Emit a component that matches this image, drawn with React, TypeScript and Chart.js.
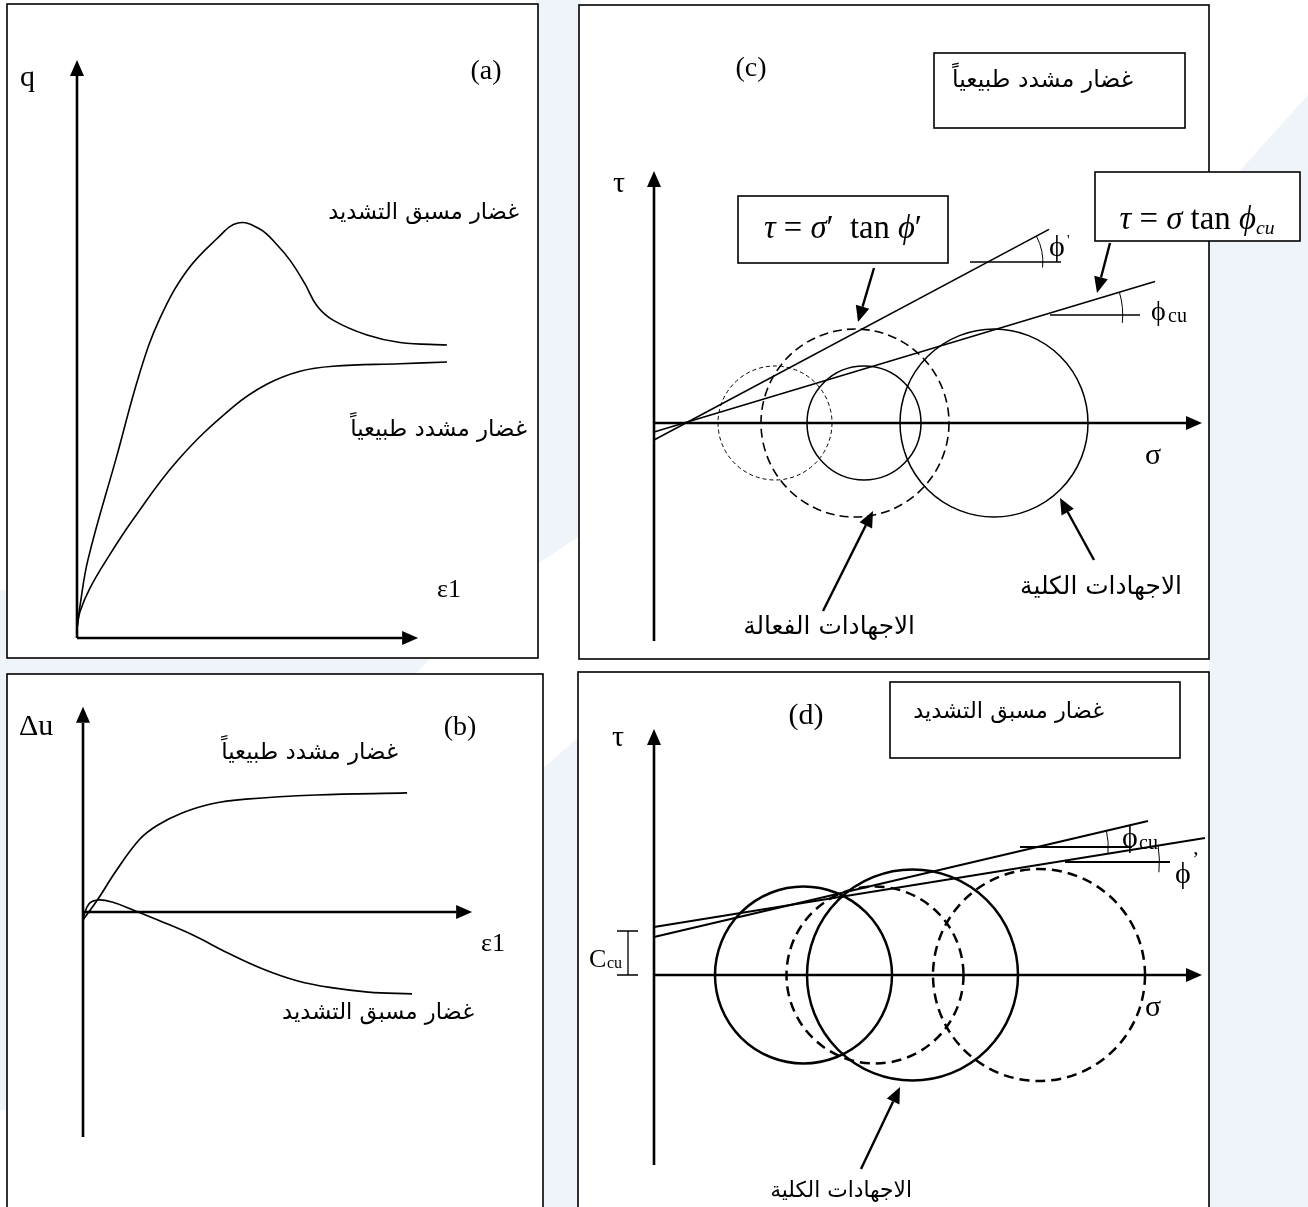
import React, { useEffect, useRef } from "react";
import { Chart, registerables } from "chart.js";

Chart.register(...registerables);

/* ---------------- (a) deviator stress q against axial strain ε1 ---------------- */
const strainOCa = [0, 0.08, 0.3, 1.08, 1.7, 2.24, 2.97, 3.78, 4.35, 4.95, 5.41, 5.76, 6.15, 6.49, 6.92, 7.84, 8.73, 10.0];
const qOCa = [0.24, 0.77, 1.9, 4.4, 6.4, 7.7, 8.85, 9.62, 10.0, 9.85, 9.47, 9.1, 8.55, 8.0, 7.66, 7.3, 7.12, 7.06];
const strainNCa = [0, 0.08, 0.35, 0.81, 1.51, 2.73, 4.22, 5.14, 6.03, 6.92, 8.73, 10.0];
const qNCa = [0.24, 0.63, 1.2, 1.9, 2.85, 4.29, 5.57, 6.12, 6.43, 6.55, 6.61, 6.65];
const axisA = { xEnd: 9.22, yEnd: 13.93 };

/* ---------------- (b) excess pore pressure Δu against ε1 ---------------- */
const strainNCb = [0, 0.46, 1.01, 1.74, 2.29, 3.03, 3.91, 4.98, 7.13, 9.91];
const duNCb = [-0.67, 1.08, 3.42, 6.08, 7.25, 8.25, 9.0, 9.4, 9.75, 9.92];
const strainOCb = [0, 0.18, 0.46, 0.89, 1.53, 2.29, 3.36, 4.43, 5.5, 6.57, 7.65, 8.72, 10.06];
const duOCb = [-0.5, 0.67, 1.0, 0.83, 0.17, -0.67, -1.92, -3.42, -4.75, -5.75, -6.33, -6.67, -6.83];
const axisB = { xEnd: 11.9, yStart: -18.75, yEnd: 17.1 };

/* ---------------- (c) normally consolidated clay, Mohr circles ---------------- */
const totalCentresC = [105, 170];
const totalRadiiC = [28.5, 47];
const effCentresC = [60.5, 100.5];
const effRadiiC = [28.5, 47];
const envEffSigmaC = [0, 197.5];
const envEffTauC = [-8.5, 96.8];
const envTotSigmaC = [0, 250.5];
const envTotTauC = [-4.5, 70.7];
const refEffSigmaC = [158, 203.5];
const refEffTauC = 80.5;
const refTotSigmaC = [198, 243];
const refTotTauC = 54;
const axisC = { xEnd: 274, yStart: -109, yEnd: 126 };
// pointer arrows: [tail σ, tail τ, tip σ, tip τ]
const arrowsC = [
  [110, 77.5, 102, 50.5],
  [228, 90, 221.5, 65],
  [84.5, -94, 109.5, -44],
  [220, -68.5, 203, -37.5],
];

/* ---------------- (d) overconsolidated clay, Mohr circles ---------------- */
const totalCentresD = [74.75, 129.25];
const totalRadiiD = [44.25, 52.75];
const effCentresD = [110.5, 192.5];
const effRadiiD = [44.25, 53];
const envTotSigmaD = [0, 247];
const envTotTauD = [19, 77];
const envEffSigmaD = [0, 275.5];
const envEffTauD = [24, 68.5];
const refTotSigmaD = [183, 239];
const refTotTauD = 64;
const refEffSigmaD = [205.5, 258];
const refEffTauD = 56.5;
const cohesionD = 22;
const axisD = { xEnd: 274, yStart: -95, yEnd: 123 };
const arrowsD = [[103.5, -97, 123, -56]];

/* ---------------- labels ---------------- */
const LBL_OC = "غضار مسبق التشديد";
const LBL_NC = "غضار مشدد طبيعياً";
const LBL_TOTAL = "الاجهادات الكلية";
const LBL_EFF = "الاجهادات الفعالة";

/* ---------------- styling ---------------- */
const INK = "#000000";
const SERIF = '"Liberation Serif", "DejaVu Serif", serif';
const ARABIC = '"DejaVu Sans", "Noto Sans", sans-serif';
const WASH = "#eef4fa";
const WASH_SHAPES: number[][][] = [
  [[1209, 205], [1308, 95], [1308, 1207], [1209, 1207]],
  [[536, 0], [581, 0], [581, 535], [536, 565]],
  [[541, 770], [581, 735], [581, 1207], [541, 1207]],
  [[0, 656], [432, 656], [414, 676], [0, 676]],
  [[0, 590], [7, 590], [7, 1110], [0, 1110]],
];

type Frame = { left: number; top: number; width: number; height: number; ox: number; oy: number; ux: number; uy: number };
type Kit = {
  ctx: CanvasRenderingContext2D;
  X: (v: number) => number;
  Y: (v: number) => number;
  R: (r: number) => number;
  P: (x: number, y: number) => [number, number];
};
type Spec = { frame: Frame; datasets: any[]; under: (k: Kit) => void; over: (k: Kit) => void };

const pts = (xs: number[], ys: number[]) => xs.map((x, i) => ({ x, y: ys[i] }));
const curve = (xs: number[], ys: number[], width = 1.6) => ({
  data: pts(xs, ys),
  borderColor: INK,
  borderWidth: width,
  pointRadius: 0,
  fill: false,
  clip: false,
  tension: 0.4,
  borderJoinStyle: "round",
});
const straight = (xs: number[], ys: number[], width = 1.6) => ({
  data: pts(xs, ys),
  borderColor: INK,
  borderWidth: width,
  pointRadius: 0,
  fill: false,
  clip: false,
  tension: 0,
});

/* ---------------- drawing helpers ---------------- */
function wash(k: Kit) {
  const { ctx } = k;
  ctx.fillStyle = WASH;
  for (const poly of WASH_SHAPES) {
    ctx.beginPath();
    poly.forEach(([x, y], i) => {
      const [px, py] = k.P(x, y);
      if (i === 0) ctx.moveTo(px, py);
      else ctx.lineTo(px, py);
    });
    ctx.closePath();
    ctx.fill();
  }
}

function box(k: Kit, x0: number, y0: number, x1: number, y1: number, lw = 1.6) {
  const { ctx } = k;
  const [a, b] = k.P(x0, y0);
  const [c, d] = k.P(x1, y1);
  ctx.fillStyle = "#ffffff";
  ctx.fillRect(a, b, c - a, d - b);
  ctx.strokeStyle = INK;
  ctx.lineWidth = lw;
  ctx.setLineDash([]);
  ctx.strokeRect(a, b, c - a, d - b);
}

function arrow(ctx: CanvasRenderingContext2D, x0: number, y0: number, x1: number, y1: number, lw: number, head: number, half: number) {
  const a = Math.atan2(y1 - y0, x1 - x0);
  const bx = x1 - head * Math.cos(a);
  const by = y1 - head * Math.sin(a);
  ctx.setLineDash([]);
  ctx.strokeStyle = INK;
  ctx.lineWidth = lw;
  ctx.beginPath();
  ctx.moveTo(x0, y0);
  ctx.lineTo(bx, by);
  ctx.stroke();
  ctx.fillStyle = INK;
  ctx.beginPath();
  ctx.moveTo(x1, y1);
  ctx.lineTo(bx + half * Math.sin(a), by - half * Math.cos(a));
  ctx.lineTo(bx - half * Math.sin(a), by + half * Math.cos(a));
  ctx.closePath();
  ctx.fill();
}

function axes(k: Kit, xEnd: number, yStart: number, yEnd: number) {
  arrow(k.ctx, k.X(0), k.Y(yStart), k.X(0), k.Y(yEnd), 2.6, 16, 7);
  arrow(k.ctx, k.X(0), k.Y(0), k.X(xEnd), k.Y(0), 2.6, 16, 7);
}

function pointers(k: Kit, list: number[][]) {
  for (const [s0, t0, s1, t1] of list) arrow(k.ctx, k.X(s0), k.Y(t0), k.X(s1), k.Y(t1), 2.4, 16, 7);
}

function circles(k: Kit, centres: number[], radii: number[], lw: number, dashes: number[][]) {
  const { ctx } = k;
  ctx.strokeStyle = INK;
  centres.forEach((c, i) => {
    ctx.lineWidth = lw;
    ctx.setLineDash(dashes[i] || []);
    ctx.beginPath();
    ctx.arc(k.X(c), k.Y(0), k.R(radii[i]), 0, Math.PI * 2);
    ctx.stroke();
  });
  ctx.setLineDash([]);
}

// small arc marking the angle between an envelope and its horizontal reference line
function angleArc(k: Kit, sig: number[], tau: number[], refTau: number, radius: number, lw = 1) {
  const slope = (tau[1] - tau[0]) / (sig[1] - sig[0]);
  const vs = sig[0] + (refTau - tau[0]) / slope;
  const cx = k.X(vs);
  const cy = k.Y(refTau);
  const ang = Math.atan2(k.Y(refTau + slope * 10) - cy, k.X(vs + 10) - cx);
  const { ctx } = k;
  ctx.setLineDash([]);
  ctx.lineWidth = lw;
  ctx.strokeStyle = INK;
  ctx.beginPath();
  ctx.arc(cx, cy, k.R(radius), ang, 0.1);
  ctx.stroke();
}

function label(k: Kit, t: string, x: number, y: number, size: number, align: CanvasTextAlign = "left", italic = false) {
  const { ctx } = k;
  ctx.font = `${italic ? "italic " : ""}${size}px ${SERIF}`;
  ctx.textAlign = align;
  ctx.textBaseline = "alphabetic";
  ctx.fillStyle = INK;
  const [px, py] = k.P(x, y);
  ctx.fillText(t, px, py);
}

type Seg = { t: string; it?: boolean; s?: number; dy?: number };
function rich(k: Kit, segs: Seg[], cxPage: number, basePage: number, size: number, targetW: number) {
  const { ctx } = k;
  const font = (g: Seg, sz: number) => `${g.it ? "italic " : ""}${sz * (g.s || 1)}px ${SERIF}`;
  const measure = (sz: number) =>
    segs.reduce((acc, g) => {
      ctx.font = font(g, sz);
      return acc + ctx.measureText(g.t).width;
    }, 0);
  const sz = size * (targetW / measure(size));
  const w = measure(sz);
  const [cx, by] = k.P(cxPage, basePage);
  let x = cx - w / 2;
  ctx.textAlign = "left";
  ctx.textBaseline = "alphabetic";
  ctx.fillStyle = INK;
  for (const g of segs) {
    ctx.font = font(g, sz);
    ctx.fillText(g.t, x, by + (g.dy || 0) * (sz / size));
    x += ctx.measureText(g.t).width;
  }
}

function arabic(k: Kit, text: string, xRight: number, yMid: number, targetW: number) {
  const { ctx } = k;
  ctx.font = `20px ${ARABIC}`;
  const w0 = ctx.measureText(text).width;
  const size = (20 * targetW) / w0;
  ctx.font = `${size}px ${ARABIC}`;
  ctx.direction = "rtl";
  ctx.textAlign = "right";
  ctx.textBaseline = "middle";
  ctx.fillStyle = INK;
  const [px, py] = k.P(xRight, yMid);
  ctx.fillText(text, px, py);
  ctx.direction = "ltr";
}

/* ---------------- panel specifications ---------------- */
const panelA: Spec = {
  frame: { left: 0, top: 0, width: 550, height: 666, ox: 77, oy: 638, ux: 37, uy: 41.5 },
  datasets: [curve(strainOCa, qOCa, 1.6), curve(strainNCa, qNCa, 1.6)],
  under(k) {
    wash(k);
    box(k, 7, 4, 538, 658);
    axes(k, axisA.xEnd, 0, axisA.yEnd);
  },
  over(k) {
    label(k, "q", 20, 86, 30);
    label(k, "(a)", 486, 79, 28, "center");
    label(k, "ε1", 437, 597, 26);
    arabic(k, LBL_OC, 519, 213, 191);
    arabic(k, LBL_NC, 527, 430, 177);
  },
};

const panelB: Spec = {
  frame: { left: 0, top: 666, width: 550, height: 541, ox: 83, oy: 912, ux: 32.7, uy: 12 },
  datasets: [curve(strainNCb, duNCb, 1.7), curve(strainOCb, duOCb, 1.7)],
  under(k) {
    wash(k);
    box(k, 7, 674, 543, 1240);
    axes(k, axisB.xEnd, axisB.yStart, axisB.yEnd);
  },
  over(k) {
    label(k, "Δu", 19, 735, 30);
    label(k, "(b)", 460, 735, 28, "center");
    label(k, "ε1", 481, 951, 26);
    arabic(k, LBL_NC, 398, 753, 177);
    arabic(k, LBL_OC, 474, 1013, 192);
  },
};

const panelC: Spec = {
  frame: { left: 550, top: 0, width: 758, height: 666, ox: 654, oy: 423, ux: 2, uy: 2 },
  datasets: [
    straight(envEffSigmaC, envEffTauC, 1.6),
    straight(envTotSigmaC, envTotTauC, 1.6),
    straight(refEffSigmaC, [refEffTauC, refEffTauC], 1.6),
    straight(refTotSigmaC, [refTotTauC, refTotTauC], 1.6),
  ],
  under(k) {
    wash(k);
    box(k, 579, 5, 1209, 659);
    axes(k, axisC.xEnd, axisC.yStart, axisC.yEnd);
  },
  over(k) {
    circles(k, totalCentresC, totalRadiiC, 1.5, [[], []]);
    circles(k, [effCentresC[0]], [effRadiiC[0]], 1, [[4, 3]]);
    circles(k, [effCentresC[1]], [effRadiiC[1]], 1.6, [[9, 5]]);
    angleArc(k, envEffSigmaC, envEffTauC, refEffTauC, 27.5);
    angleArc(k, envTotSigmaC, envTotTauC, refTotTauC, 39.5);
    pointers(k, arrowsC);

    label(k, "(c)", 751, 76, 28, "center");
    label(k, "τ", 619, 192, 30, "center");
    label(k, "σ", 1153, 464, 30, "center");
    label(k, "ϕ", 1049, 256, 30);
    label(k, "'", 1067, 245, 15);
    label(k, "ϕ", 1151, 320, 28);
    label(k, "cu", 1168, 322, 20);

    box(k, 934, 53, 1185, 128, 1.6);
    arabic(k, LBL_NC, 1133, 81, 181);

    box(k, 738, 196, 948, 263, 1.6);
    rich(k, [{ t: "τ", it: true }, { t: " = " }, { t: "σ", it: true }, { t: "′ " }, { t: " tan " }, { t: "ϕ", it: true }, { t: "′" }], 843, 238, 28, 158);

    box(k, 1095, 172, 1300, 241, 1.6);
    rich(k, [{ t: "τ", it: true }, { t: " = " }, { t: "σ", it: true }, { t: " tan " }, { t: "ϕ", it: true }, { t: "cu", it: true, s: 0.6, dy: 4 }], 1197, 229, 28, 155);

    arabic(k, LBL_EFF, 915, 628, 172);
    arabic(k, LBL_TOTAL, 1182, 588, 162);
  },
};

const panelD: Spec = {
  frame: { left: 550, top: 666, width: 758, height: 541, ox: 654, oy: 975, ux: 2, uy: 2 },
  datasets: [
    straight(envTotSigmaD, envTotTauD, 2),
    straight(envEffSigmaD, envEffTauD, 2),
    straight(refTotSigmaD, [refTotTauD, refTotTauD], 2),
    straight(refEffSigmaD, [refEffTauD, refEffTauD], 2),
  ],
  under(k) {
    wash(k);
    box(k, 578, 672, 1209, 1240);
    axes(k, axisD.xEnd, axisD.yStart, axisD.yEnd);
  },
  over(k) {
    circles(k, totalCentresD, totalRadiiD, 2.5, [[], []]);
    circles(k, effCentresD, effRadiiD, 2.5, [[10, 6], [10, 6]]);
    angleArc(k, envTotSigmaD, envTotTauD, refTotTauD, 35.5);
    angleArc(k, envEffSigmaD, envEffTauD, refEffTauD, 51.5);
    pointers(k, arrowsD);

    // cohesion intercept bracket
    const { ctx } = k;
    ctx.setLineDash([]);
    ctx.lineWidth = 1.3;
    ctx.strokeStyle = INK;
    ctx.beginPath();
    ctx.moveTo(k.X(-13), k.Y(0));
    ctx.lineTo(k.X(-13), k.Y(cohesionD));
    ctx.moveTo(k.X(-18.5), k.Y(0));
    ctx.lineTo(k.X(-8), k.Y(0));
    ctx.moveTo(k.X(-18.5), k.Y(cohesionD));
    ctx.lineTo(k.X(-8), k.Y(cohesionD));
    ctx.stroke();
    label(k, "C", 589, 967, 26);
    label(k, "cu", 607, 968, 16);

    label(k, "(d)", 806, 724, 30, "center");
    label(k, "τ", 618, 746, 30, "center");
    label(k, "σ", 1153, 1016, 30, "center");
    label(k, "ϕ", 1122, 847, 30);
    label(k, "cu", 1139, 849, 20);
    label(k, "ϕ", 1175, 883, 30);
    label(k, "’", 1192, 866, 22);

    box(k, 890, 682, 1180, 758, 1.6);
    arabic(k, LBL_OC, 1104, 712, 191);
    arabic(k, LBL_TOTAL, 912, 1191, 142);
  },
};

function kit(c: any, f: Frame): Kit {
  const xs = c.scales.x;
  const ys = c.scales.y;
  return {
    ctx: c.ctx,
    X: (v) => xs.getPixelForValue(v),
    Y: (v) => ys.getPixelForValue(v),
    R: (r) => Math.abs(xs.getPixelForValue(r) - xs.getPixelForValue(0)),
    P: (x, y) => [x - f.left, y - f.top],
  };
}

function PanelCanvas({ spec }: { spec: Spec }) {
  const ref = useRef<HTMLCanvasElement | null>(null);
  const f = spec.frame;
  useEffect(() => {
    const canvas = ref.current;
    if (!canvas) return;
    const chart = new Chart(canvas, {
      type: "line",
      data: { datasets: spec.datasets },
      options: {
        animation: false,
        responsive: false,
        maintainAspectRatio: false,
        events: [],
        layout: { padding: 0 },
        plugins: { legend: { display: false }, tooltip: { enabled: false }, title: { display: false } },
        scales: {
          x: { type: "linear", display: false, min: (f.left - f.ox) / f.ux, max: (f.left + f.width - f.ox) / f.ux },
          y: { type: "linear", display: false, min: (f.oy - f.top - f.height) / f.uy, max: (f.oy - f.top) / f.uy },
        },
      } as any,
      plugins: [
        {
          id: "sketch",
          beforeDatasetsDraw(c: any) {
            c.ctx.save();
            spec.under(kit(c, f));
            c.ctx.restore();
          },
          afterDatasetsDraw(c: any) {
            c.ctx.save();
            spec.over(kit(c, f));
            c.ctx.restore();
          },
        },
      ],
    });
    return () => chart.destroy();
  }, [spec]);
  return (
    <canvas
      ref={ref}
      width={f.width}
      height={f.height}
      style={{ position: "absolute", left: f.left, top: f.top, width: f.width, height: f.height }}
    />
  );
}

export default function App() {
  return (
    <div style={{ position: "absolute", left: 0, top: 0, width: 1308, height: 1207, background: "#ffffff", overflow: "hidden" }}>
      <PanelCanvas spec={panelA} />
      <PanelCanvas spec={panelB} />
      <PanelCanvas spec={panelC} />
      <PanelCanvas spec={panelD} />
    </div>
  );
}
